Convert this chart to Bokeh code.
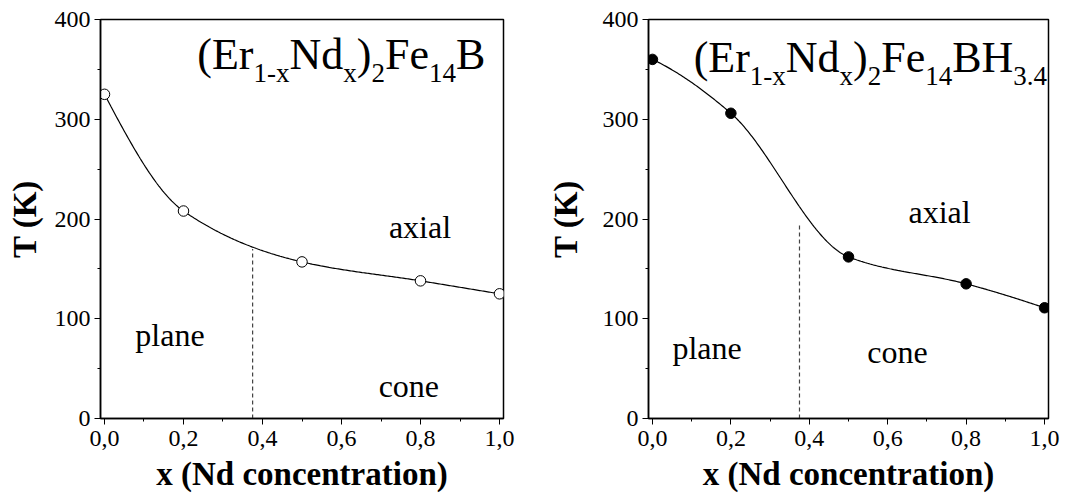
import numpy as np
from bokeh.plotting import figure
from bokeh.layouts import row
from bokeh.models import Range1d, FixedTicker, CustomJSTickFormatter, Label
from bokeh.embed import file_html
from bokeh.resources import INLINE

# Nd concentration of the measured samples
x_nd = [0.0, 0.2, 0.5, 0.8, 1.0]
# spin-reorientation temperature T_SR (K)
t_parent = [325, 208, 157, 138, 125]     # (Er1-xNdx)2Fe14B
t_hydride = [360, 306, 162, 135, 111]    # (Er1-xNdx)2Fe14BH3.4

# plane / cone boundary (x) and where it stops under the T_SR line (K)
boundary_x = 0.375
boundary_top_parent = 170
boundary_top_hydride = 196

x_ticks = [0.0, 0.2, 0.4, 0.6, 0.8, 1.0]
x_minor = [0.1, 0.3, 0.5, 0.7, 0.9]
y_ticks = [0, 100, 200, 300, 400]
y_minor = [50, 150, 250, 350]

SERIF = "Liberation Serif"
MAIN_PX, SUB_PX = 44, 27

# Times-style advance widths (em) used to lay out the chemical formula
ADV = {"(": 0.333, ")": 0.333, "E": 0.611, "r": 0.333, "N": 0.722, "d": 0.5,
       "F": 0.556, "e": 0.444, "B": 0.667, "H": 0.722, "x": 0.5, "-": 0.333,
       "1": 0.5, "2": 0.5, "3": 0.5, "4": 0.5, ".": 0.25}


def pchip(xs, ys, n=300):
    """Monotone piecewise-cubic curve through the measured points."""
    xs = np.asarray(xs, float)
    ys = np.asarray(ys, float)
    h = np.diff(xs)
    delta = np.diff(ys) / h
    k = len(xs)
    d = np.zeros(k)
    for i in range(1, k - 1):
        if delta[i - 1] * delta[i] > 0:
            w1 = 2 * h[i] + h[i - 1]
            w2 = h[i] + 2 * h[i - 1]
            d[i] = (w1 + w2) / (w1 / delta[i - 1] + w2 / delta[i])

    def end_slope(h0, h1, d0, d1):
        s = ((2 * h0 + h1) * d0 - h0 * d1) / (h0 + h1)
        if np.sign(s) != np.sign(d0):
            s = 0.0
        elif np.sign(d0) != np.sign(d1) and abs(s) > abs(3 * d0):
            s = 3 * d0
        return s

    d[0] = end_slope(h[0], h[1], delta[0], delta[1])
    d[-1] = end_slope(h[-1], h[-2], delta[-1], delta[-2])
    xx = np.linspace(xs[0], xs[-1], n)
    yy = np.empty_like(xx)
    for j, xv in enumerate(xx):
        i = min(np.searchsorted(xs, xv, side="right") - 1, k - 2)
        t = (xv - xs[i]) / h[i]
        h00 = 2 * t ** 3 - 3 * t ** 2 + 1
        h10 = t ** 3 - 2 * t ** 2 + t
        h01 = -2 * t ** 3 + 3 * t ** 2
        h11 = t ** 3 - t ** 2
        yy[j] = h00 * ys[i] + h10 * h[i] * d[i] + h01 * ys[i + 1] + h11 * h[i] * d[i + 1]
    return xx, yy


def add_text(p, text, x, y, size, style="normal", align="left"):
    # y is the wanted baseline; nudge for how the label box is anchored
    p.add_layout(Label(x=x, y=y + 0.3 * size, text=text, text_font=SERIF,
                       text_font_size=f"{size}px", text_font_style=style,
                       text_color="black", text_baseline="alphabetic",
                       text_align=align))


def make_panel(width, border_left, t_values, filled, boundary_top,
               formula, formula_start, formula_base, labels, ylabel_standoff):
    p = figure(width=width, height=494, output_backend="svg", toolbar_location=None,
               x_range=Range1d(-0.0101, 1.0101), y_range=Range1d(0, 400),
               min_border_left=border_left, min_border_right=37,
               min_border_top=19, min_border_bottom=75)
    p.background_fill_color = "white"
    p.border_fill_color = "white"
    p.outline_line_color = "black"
    p.outline_line_width = 1.5
    p.xgrid.visible = False
    p.ygrid.visible = False

    xa = p.below[0]
    ya = p.left[0]
    xa.ticker = FixedTicker(ticks=x_ticks, minor_ticks=x_minor)
    ya.ticker = FixedTicker(ticks=y_ticks, minor_ticks=y_minor)
    xa.formatter = CustomJSTickFormatter(code="return tick.toFixed(1).replace('.', ',');")
    ya.formatter = CustomJSTickFormatter(code="return tick.toFixed(0);")
    for ax in (xa, ya):
        ax.axis_line_color = "black"
        ax.axis_line_width = 1.5
        ax.major_tick_in = 0
        ax.major_tick_out = 6
        ax.minor_tick_in = 0
        ax.minor_tick_out = 3
        ax.major_tick_line_color = "black"
        ax.minor_tick_line_color = "black"
        ax.major_tick_line_width = 1
        ax.minor_tick_line_width = 1
        ax.major_label_text_font = SERIF
        ax.major_label_text_font_size = "24px"
        ax.major_label_text_color = "black"
        ax.axis_label_text_font = SERIF
        ax.axis_label_text_font_size = "33px"
        ax.axis_label_text_font_style = "bold"
        ax.axis_label_text_color = "black"
    xa.major_label_standoff = 6
    ya.major_label_standoff = 4
    xa.axis_label = "x (Nd concentration)"
    ya.axis_label = "T (K)"
    xa.axis_label_standoff = 7
    ya.axis_label_standoff = ylabel_standoff

    # plane / cone boundary
    p.line([boundary_x, boundary_x], [0, boundary_top], line_color="#444444",
           line_width=1.2, line_dash="4 3")

    # spin-reorientation line and measured points
    cx, cy = pchip(x_nd, t_values)
    p.line(cx, cy, line_color="black", line_width=1.2)
    p.scatter(x_nd, t_values, size=10.5, marker="circle", line_color="black",
              line_width=1, fill_color="black" if filled else "white")

    # compound formula, laid out piece by piece
    px_per_unit = (width - border_left - 37) / 1.0202
    main_y, sub_y = formula_base
    xpos = formula_start
    for text, is_sub in formula:
        size = SUB_PX if is_sub else MAIN_PX
        add_text(p, text, xpos, sub_y if is_sub else main_y, size)
        xpos += sum(ADV[c] for c in text) * size / px_per_unit

    # phase labels
    for text, lx, ly in labels:
        add_text(p, text, lx, ly, 32)
    return p


parent_formula = [("(Er", False), ("1-x", True), ("Nd", False), ("x", True),
                  (")", False), ("2", True), ("Fe", False), ("14", True), ("B", False)]
hydride_formula = parent_formula + [("H", False), ("3.4", True)]

left = make_panel(540, 100, t_parent, False, boundary_top_parent,
                  parent_formula, 0.235, (352, 338),
                  [("axial", 0.72, 182), ("plane", 0.078, 74), ("cone", 0.694, 23)],
                  9)
right = make_panel(545, 108, t_hydride, True, boundary_top_hydride,
                   hydride_formula, 0.105, (349, 335),
                   [("axial", 0.653, 197), ("plane", 0.051, 61), ("cone", 0.548, 57)],
                   16)

layout = row(left, right)
open("out.html", "w").write(file_html(layout, INLINE))
